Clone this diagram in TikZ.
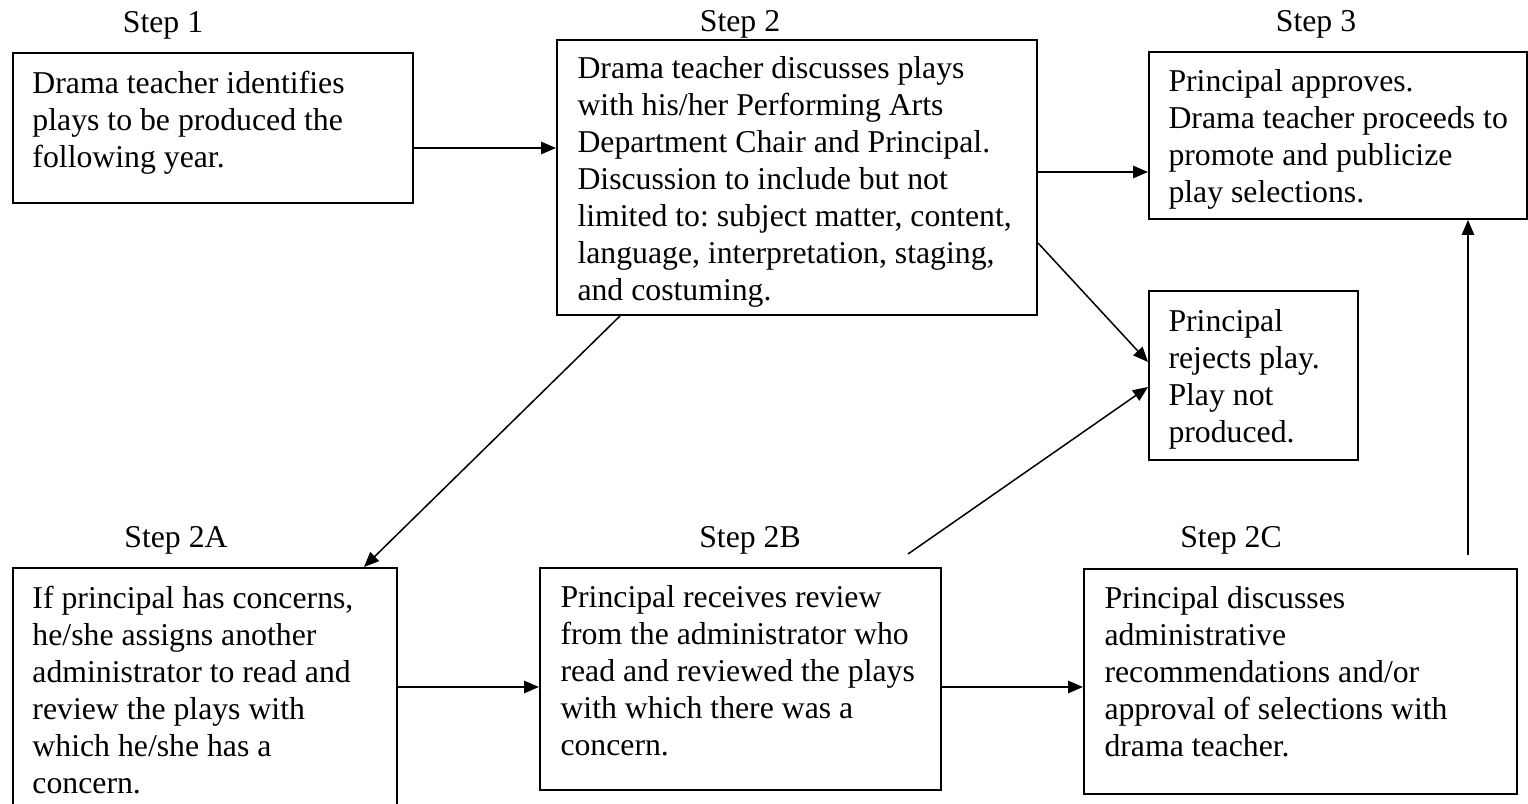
\documentclass[tikz,border=0pt]{standalone}
\usepackage{fontspec}
\setmainfont{Liberation Serif}
\usetikzlibrary{arrows.meta,calc}
\frenchspacing

\tikzset{
  stepbox/.style 2 args={draw, line width=0.8pt, anchor=north west, inner sep=0pt,
    minimum width=#1*0.4pt, minimum height=#2*0.4pt},
  steptext/.style={anchor=north west, inner sep=0pt, align=left},
  steplabel/.style={anchor=base, inner sep=0pt},
  arr/.style={line width=0.6pt, -{Triangle[length=6pt,width=5pt]}}
}

\begin{document}
\begin{tikzpicture}[x=0.4pt, y=-0.4pt, font=\fontsize{12.7}{14.8}\selectfont]
\useasboundingbox (0,0) rectangle (1528,804);

% labels above the boxes
\node[steplabel] (l1)  at (163,33)  {Step 1};
\node[steplabel] (l2)  at (740,32)  {Step 2};
\node[steplabel] (l3)  at (1316,32) {Step 3};
\node[steplabel] (l2a) at (176,548) {Step 2A};
\node[steplabel] (l2b) at (750,548) {Step 2B};
\node[steplabel] (l2c) at (1231,548) {Step 2C};

% boxes
\node[stepbox={400}{150}] (s1)  at (12,52)    {};
\node[stepbox={480}{275}] (s2)  at (556,39)   {};
\node[stepbox={378}{167}] (s3)  at (1148,51)  {};
\node[stepbox={209}{169}] (rej) at (1148,290) {};
\node[stepbox={384}{250}] (s2a) at (12,567)   {};
\node[stepbox={401}{222}] (s2b) at (539,567)  {};
\node[stepbox={433}{225}] (s2c) at (1083,568) {};

% texts
\node[steptext] (t1) at ($(s1.north west)+(20,19)$)
  {Drama teacher identifies\\plays to be produced the\\following year.};
\node[steptext] (t2) at ($(s2.north west)+(21,17)$)
  {Drama teacher discusses plays\\with his/her Performing Arts\\Department Chair and Principal.\\Discussion to include but not\\limited to: subject matter, content,\\language, interpretation, staging,\\and costuming.};
\node[steptext] (t3) at ($(s3.north west)+(20,18)$)
  {Principal approves.\\Drama teacher proceeds to\\promote and publicize\\play selections.};
\node[steptext] (trej) at ($(rej.north west)+(20,19)$)
  {Principal\\rejects play.\\Play not\\produced.};
\node[steptext] (t2a) at ($(s2a.north west)+(20,19)$)
  {If principal has concerns,\\he/she assigns another\\administrator to read and\\review the plays with\\which he/she has a\\concern.};
\node[steptext] (t2b) at ($(s2b.north west)+(21,18)$)
  {Principal receives review\\from the administrator who\\read and reviewed the plays\\with which there was a\\concern.};
\node[steptext] (t2c) at ($(s2c.north west)+(21,18)$)
  {Principal discusses\\administrative\\recommendations and/or\\approval of selections with\\drama teacher.};

% arrows
\coordinate (b2) at (908,554);
\coordinate (c2) at (1468,555);
\draw[arr] (s1.east |- 0,148) -- (s2.west |- 0,148);
\draw[arr] (s2.east |- 0,172) -- (s3.west |- 0,172);
\draw[arr] (s2.east |- 0,243) -- (rej.west |- 0,362);
\draw[arr] (s2.south -| 620,0) -- (s2a.north -| 364,0);
\draw[arr] (b2) -- (rej.west |- 0,387);
\draw[arr] (s2a.east |- 0,687) -- (s2b.west |- 0,687);
\draw[arr] (s2b.east |- 0,687) -- (s2c.west |- 0,687);
\draw[arr] (c2) -- (s3.south -| c2);

\end{tikzpicture}
\end{document}
